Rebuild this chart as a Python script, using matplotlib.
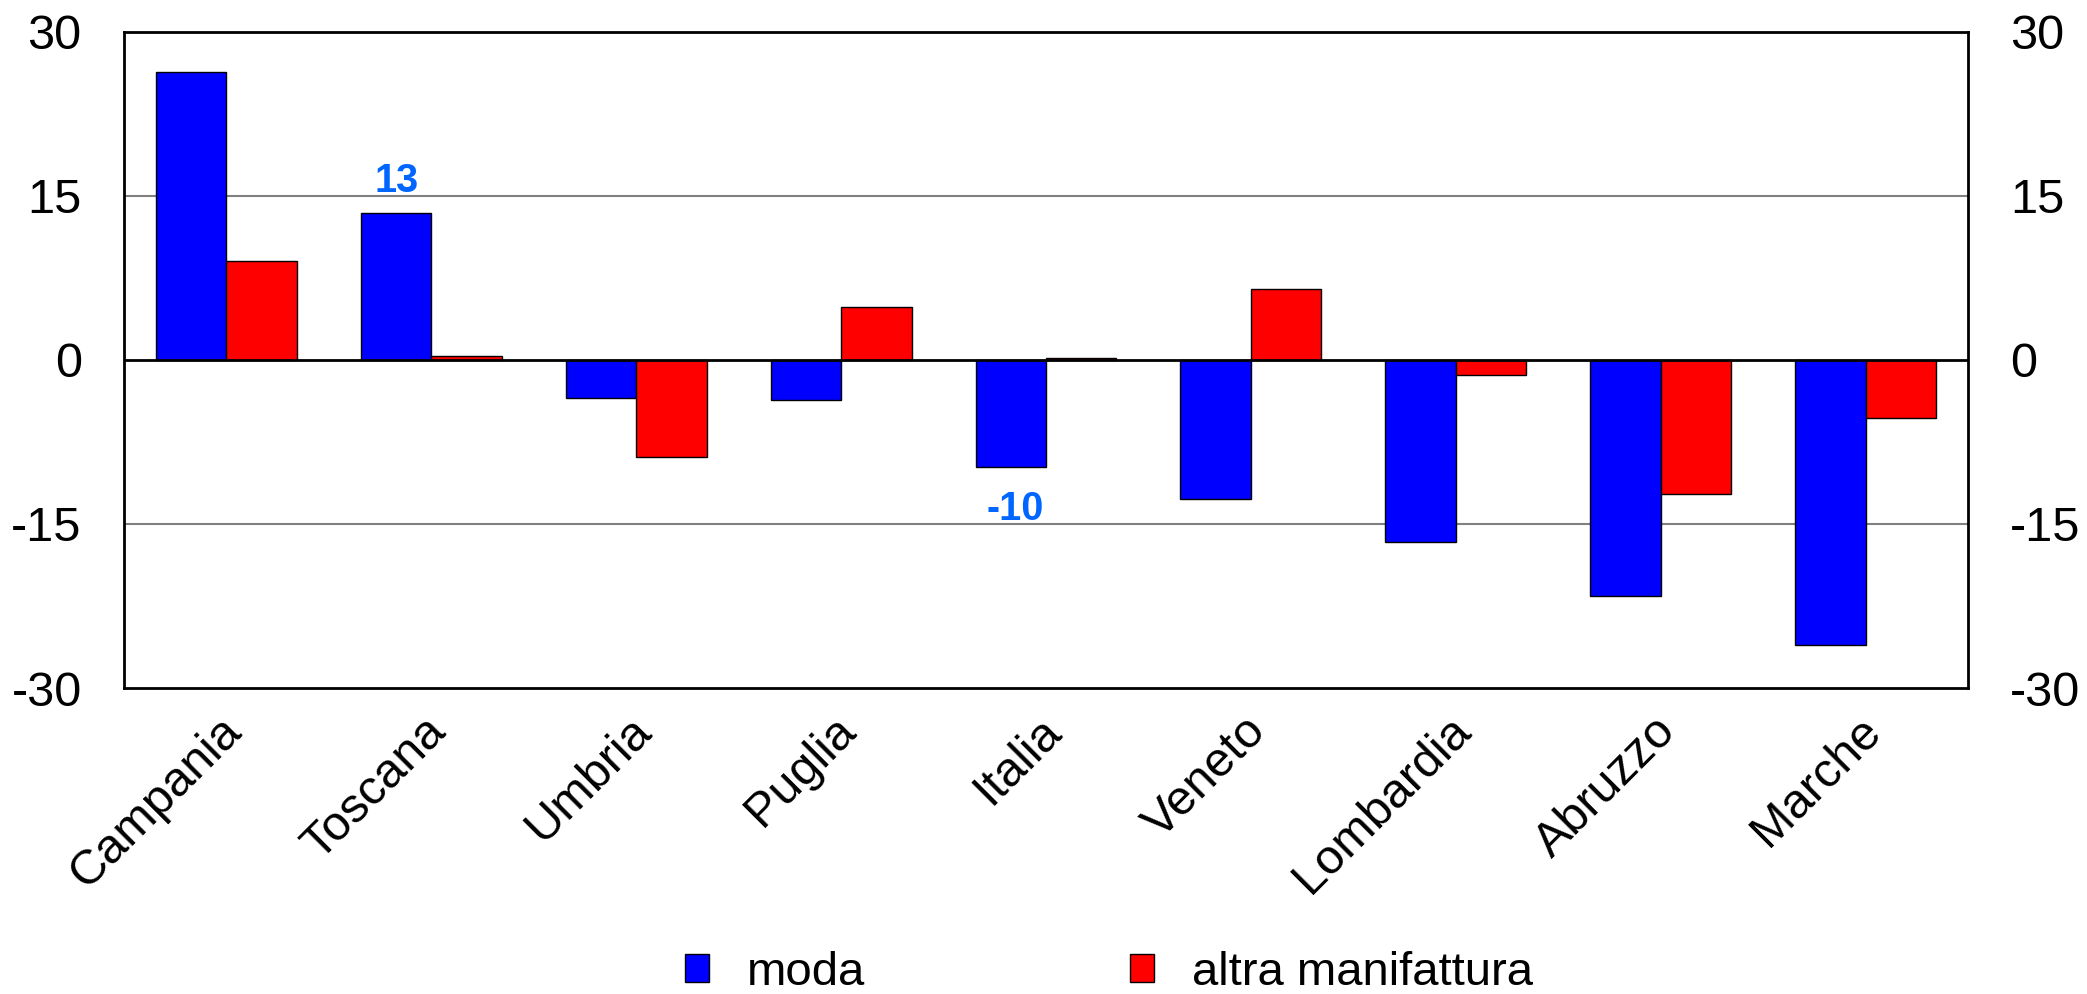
import matplotlib
matplotlib.use("Agg")
import matplotlib.pyplot as plt
import matplotlib.transforms as mtransforms
from matplotlib.patches import Patch
import numpy as np

categories = ["Campania", "Toscana", "Umbria", "Puglia", "Italia", "Veneto",
              "Lombardia", "Abruzzo", "Marche"]
moda = [26.3, 13.4, -3.5, -3.7, -9.8, -12.7, -16.7, -21.6, -26.1]
altra = [9.0, 0.3, -8.9, 4.8, 0.2, 6.5, -1.4, -12.3, -5.3]
series_names = ["moda", "altra manifattura"]
yticks = [-30, -15, 0, 15, 30]
labelled = {"Toscana": "13", "Italia": "-10"}

plt.rcParams['font.family'] = ['Liberation Sans', 'DejaVu Sans']

W, H = 2087, 994
fig = plt.figure(figsize=(W / 100, H / 100), dpi=100)
ax = fig.add_axes([124 / W, 1 - 688 / H, (1968 - 124) / W, (688 - 31.5) / H])

x = np.arange(len(categories))
bw = 0.344
ax.bar(x - bw / 2, moda, bw, color='#0000FF', edgecolor='black', linewidth=1.0, zorder=3)
ax.bar(x + bw / 2, altra, bw, color='#FF0000', edgecolor='black', linewidth=1.0, zorder=3)

ax.set_xlim(-0.5, len(categories) - 0.5)
ax.set_ylim(-30, 30)
ax.set_yticks(yticks)
ax.set_yticklabels([str(t) for t in yticks])
for t in [-15, 15]:
    ax.axhline(t, color='#808080', linewidth=1.5, zorder=1)
ax.axhline(0, color='black', linewidth=2.0, zorder=4)

for s in ax.spines.values():
    s.set_linewidth(2.0)
    s.set_color('black')

ax.tick_params(axis='y', left=False, right=False, labelleft=True, labelright=True,
               labelsize=35, pad=27)
ax.set_xticks(x)
ax.set_xticklabels(categories, rotation=45, ha='right', rotation_mode='anchor',
                   fontsize=35)
ax.tick_params(axis='x', bottom=False, pad=11)
offset = mtransforms.ScaledTranslation(-8 / 100, 0, fig.dpi_scale_trans)
for lab in ax.get_xticklabels():
    lab.set_transform(lab.get_transform() + offset)

for i, c in enumerate(categories):
    if c in labelled:
        v = moda[i]
        if v >= 0:
            ax.annotate(labelled[c], (x[i] - bw / 2, v), xytext=(0, 15),
                        textcoords='offset points', ha='center', va='baseline',
                        fontsize=28.5, fontweight='bold', color='#0066FF')
        else:
            ax.annotate(labelled[c], (x[i] - bw / 2, v), xytext=(3, -38.4),
                        textcoords='offset points', ha='center', va='baseline',
                        fontsize=28.5, fontweight='bold', color='#0066FF')

handles = [Patch(facecolor='#0000FF', edgecolor='black', linewidth=1.0),
           Patch(facecolor='#FF0000', edgecolor='black', linewidth=1.0)]
fig.legend(handles, series_names, ncol=2, loc='center',
           bbox_to_anchor=(1108.7 / W, 1 - 973 / H), frameon=False,
           fontsize=34, handlelength=0.52, handleheight=0.52,
           handletextpad=0.8, columnspacing=5.6, borderpad=0.1)

fig.savefig("out.png", dpi=100)
